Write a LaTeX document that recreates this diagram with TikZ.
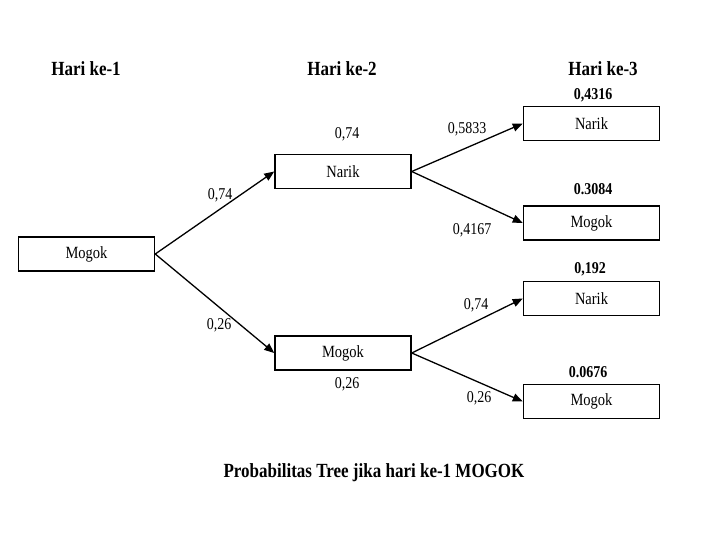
\documentclass[tikz,border=0pt]{standalone}
\usepackage{fontspec}
\usepackage{graphicx}
\setmainfont{Liberation Serif}
\usetikzlibrary{arrows.meta}
\newcommand{\vst}[1]{\scalebox{1}[1.18]{#1}}
\tikzset{
  box/.style={draw, line width=1.5pt, minimum width=136pt, minimum height=34pt, inner sep=0pt, font=\fontsize{14.5}{16}\selectfont},
  lbl/.style={inner sep=0pt, font=\fontsize{14}{16}\selectfont},
  blbl/.style={inner sep=0pt, font=\fontsize{14}{16}\selectfont\bfseries},
  head/.style={inner sep=0pt, font=\fontsize{17}{20}\selectfont\bfseries},
  arr/.style={line width=1.3pt, -{Triangle[length=10pt,width=8pt]}}
}
\begin{document}
\begin{tikzpicture}[x=1pt,y=-1pt]
\useasboundingbox (0,0) rectangle (720,540);
% headings
\node[head] (h1) at (86,69) {\vst{Hari ke-1}};
\node[head] (h2) at (342,69) {\vst{Hari ke-2}};
\node[head] (h3) at (603,69) {\vst{Hari ke-3}};
% boxes
\node[box] (root) at (86.5,254) {\vst{Mogok}};
\node[box] (a) at (343,171.5) {\vst{Narik}};
\node[box] (b) at (343,353) {\vst{Mogok}};
\node[box] (aa) at (591.5,123.5) {\vst{Narik}};
\node[box] (ab) at (591.5,223) {\vst{Mogok}};
\node[box] (ba) at (591.5,298.5) {\vst{Narik}};
\node[box] (bb) at (591.5,401.5) {\vst{Mogok}};
% connectors
\draw[arr] (root.east) -- (a.west);
\draw[arr] (root.east) -- (b.west);
\draw[arr] (a.east) -- (aa.west);
\draw[arr] (a.east) -- (ab.west);
\draw[arr] (b.east) -- (ba.west);
\draw[arr] (b.east) -- (bb.west);
% labels
\node[lbl] (l1) at (220,195) {\vst{0,74}};
\node[lbl] (l2) at (219,325) {\vst{0,26}};
\node[lbl] (l3) at (347,134) {\vst{0,74}};
\node[lbl] (l4) at (347,384) {\vst{0,26}};
\node[lbl] (l5) at (467,129) {\vst{0,5833}};
\node[lbl] (l6) at (472,230) {\vst{0,4167}};
\node[lbl] (l7) at (476,305) {\vst{0,74}};
\node[lbl] (l8) at (479,398) {\vst{0,26}};
\node[blbl] (p1) at (593,95) {\vst{0,4316}};
\node[blbl] (p2) at (593,189) {\vst{0.3084}};
\node[blbl] (p3) at (590,269) {\vst{0,192}};
\node[blbl] (p4) at (588,372) {\vst{0.0676}};
% caption
\node[head] (cap) at (374,473) {\vst{Probabilitas Tree jika hari ke-1 MOGOK}};
\end{tikzpicture}
\end{document}
